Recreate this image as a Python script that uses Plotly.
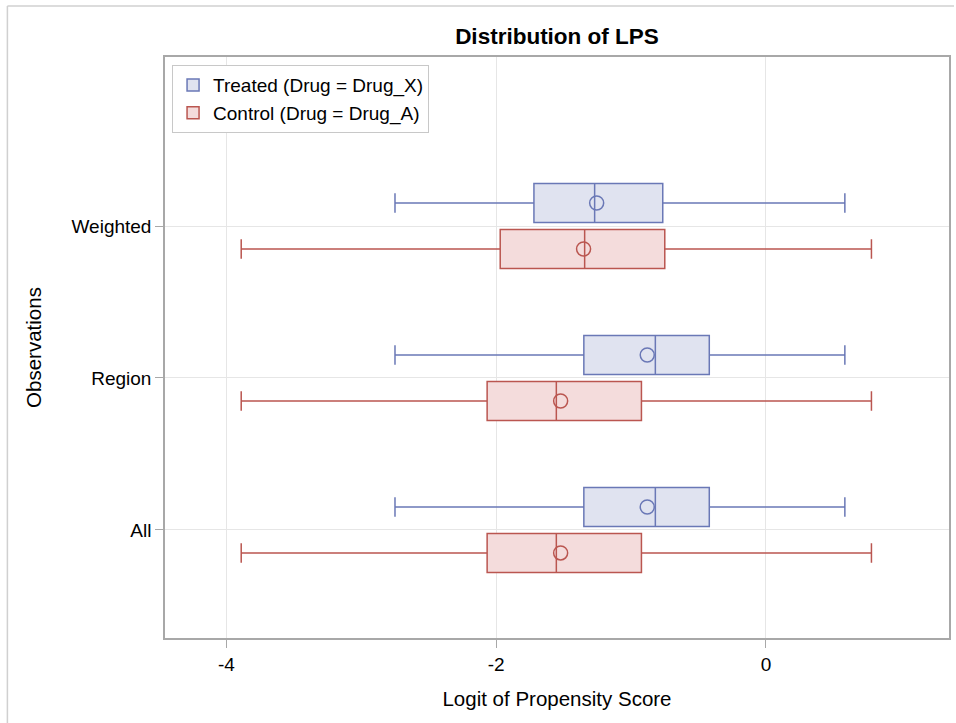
import plotly.graph_objects as go

groups = ["All", "Region", "Weighted"]

treated_name = "Treated (Drug = Drug_X)"
treated_low = [-2.75, -2.75, -2.75]
treated_q1 = [-1.35, -1.35, -1.72]
treated_med = [-0.82, -0.82, -1.27]
treated_q3 = [-0.42, -0.42, -0.765]
treated_high = [0.585, 0.585, 0.585]
treated_mean = [-0.88, -0.88, -1.255]

control_name = "Control (Drug = Drug_A)"
control_low = [-3.89, -3.89, -3.89]
control_q1 = [-2.067, -2.067, -1.97]
control_med = [-1.554, -1.554, -1.344]
control_q3 = [-0.923, -0.923, -0.75]
control_high = [0.782, 0.782, 0.782]
control_mean = [-1.522, -1.522, -1.352]

x_tickvals = [-4, -2, 0]
x_ticktext = ["-4", "-2", "0"]

FONT = "Liberation Sans, Arial, sans-serif"
T_LINE, T_FILL = "#6A78B6", "#E0E3F0"
C_LINE, C_FILL = "#BA5650", "#F4DCDC"

fig = go.Figure()

# Control first -> lower slot in each group, Treated second -> upper slot
fig.add_trace(go.Box(
    y=groups, q1=control_q1, median=control_med, q3=control_q3,
    lowerfence=control_low, upperfence=control_high,
    orientation="h", name=control_name, legendrank=2,
    fillcolor=C_FILL, line=dict(color=C_LINE, width=1.5),
    whiskerwidth=0.5, hoverinfo="skip",
))
fig.add_trace(go.Box(
    y=groups, q1=treated_q1, median=treated_med, q3=treated_q3,
    lowerfence=treated_low, upperfence=treated_high,
    orientation="h", name=treated_name, legendrank=1,
    fillcolor=T_FILL, line=dict(color=T_LINE, width=1.5),
    whiskerwidth=0.5, hoverinfo="skip",
))
fig.add_trace(go.Scatter(
    x=control_mean, y=groups, mode="markers", orientation="h",
    marker=dict(symbol="circle-open", size=14, color=C_LINE,
                line=dict(color=C_LINE, width=1.5)),
    showlegend=False, hoverinfo="skip",
))
fig.add_trace(go.Scatter(
    x=treated_mean, y=groups, mode="markers", orientation="h",
    marker=dict(symbol="circle-open", size=14, color=T_LINE,
                line=dict(color=T_LINE, width=1.5)),
    showlegend=False, hoverinfo="skip",
))

fig.update_layout(
    width=956, height=723,
    margin=dict(l=165, r=5, t=57, b=85),
    paper_bgcolor="white", plot_bgcolor="white",
    font=dict(family=FONT, size=19, color="black"),
    boxmode="group", boxgap=0.395, boxgroupgap=0.15,
    scattermode="group", scattergap=0.395,
    title=dict(text="<b>Distribution of LPS</b>", x=0.5, xref="paper",
               y=1 - 36 / 723, yref="container", yanchor="middle",
               xanchor="center", font=dict(size=22.5, family=FONT, color="black")),
    legend=dict(x=0.009, y=0.986, xanchor="left", yanchor="top",
                bgcolor="white", bordercolor="#C8C8C8", borderwidth=1,
                font=dict(size=19, family=FONT), traceorder="normal"),
    xaxis=dict(
        range=[-4.455, 1.357], tickvals=x_tickvals, ticktext=x_ticktext,
        showgrid=True, gridcolor="#E6E6E6", gridwidth=1, zeroline=False,
        showline=True, mirror=True, linecolor="#A8A8A8", linewidth=1.5,
        ticks="outside", ticklen=8, tickcolor="#A8A8A8",
        title=dict(text="Logit of Propensity Score", font=dict(size=20.5), standoff=18),
    ),
    yaxis=dict(
        type="category", categoryorder="array", categoryarray=groups,
        range=[-0.711, 3.112],
        showgrid=True, gridcolor="#E6E6E6", gridwidth=1, zeroline=False,
        showline=True, mirror=True, linecolor="#A8A8A8", linewidth=1.5,
        ticks="outside", ticklen=8, tickcolor="#A8A8A8",
        title=dict(text="Observations", font=dict(size=20.5), standoff=24),
    ),
    shapes=[
        dict(type="line", xref="paper", yref="paper",
             x0=(7 - 165) / 786, x1=(956 - 165) / 786,
             y0=(638 - 6) / 581, y1=(638 - 6) / 581,
             line=dict(color="#D0D0D0", width=1.5)),
        dict(type="line", xref="paper", yref="paper",
             x0=(7 - 165) / 786, x1=(7 - 165) / 786,
             y0=(638 - 6) / 581, y1=(638 - 723) / 581,
             line=dict(color="#D0D0D0", width=1.5)),
    ],
)

fig.write_html("out.html")
